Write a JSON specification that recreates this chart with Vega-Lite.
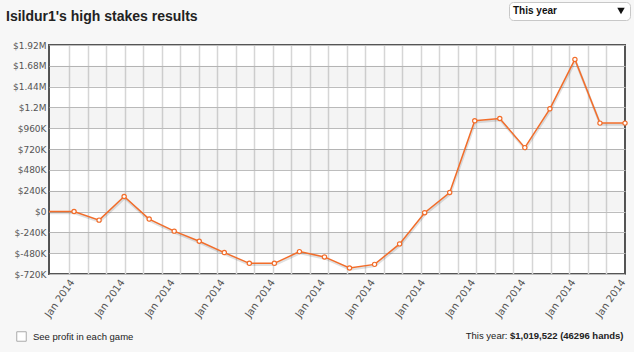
{
  "$schema": "https://vega.github.io/schema/vega-lite/v6.json",
  "width": 576,
  "height": 229,
  "autosize": {"type": "none"},
  "padding": {"left": 49, "top": 45, "right": 9, "bottom": 78},
  "background": "#f7f7f7",
  "title": {
    "text": "Isildur1's high stakes results",
    "anchor": "start",
    "frame": "group",
    "dx": -43,
    "offset": -22,
    "font": "Liberation Sans",
    "fontSize": 14,
    "fontWeight": "bold",
    "color": "#222222"
  },
  "config": {
    "view": {"stroke": "#555555", "strokeWidth": 2, "fill": "#ffffff"}
  },
  "datasets": {
    "results": [
      {"i": 0, "month": "Jan 2014", "profit": 0},
      {"i": 1, "month": "Jan 2014", "profit": 0},
      {"i": 2, "month": "Jan 2014", "profit": -99000},
      {"i": 3, "month": "Jan 2014", "profit": 173000},
      {"i": 4, "month": "Jan 2014", "profit": -87000},
      {"i": 5, "month": "Jan 2014", "profit": -226000},
      {"i": 6, "month": "Jan 2014", "profit": -342000},
      {"i": 7, "month": "Jan 2014", "profit": -473000},
      {"i": 8, "month": "Jan 2014", "profit": -597000},
      {"i": 9, "month": "Jan 2014", "profit": -597000},
      {"i": 10, "month": "Jan 2014", "profit": -462000},
      {"i": 11, "month": "Jan 2014", "profit": -523000},
      {"i": 12, "month": "Jan 2014", "profit": -651000},
      {"i": 13, "month": "Jan 2014", "profit": -609000},
      {"i": 14, "month": "Jan 2014", "profit": -373000},
      {"i": 15, "month": "Jan 2014", "profit": -13000},
      {"i": 16, "month": "Jan 2014", "profit": 219000},
      {"i": 17, "month": "Jan 2014", "profit": 1046000},
      {"i": 18, "month": "Jan 2014", "profit": 1073000},
      {"i": 19, "month": "Jan 2014", "profit": 737000},
      {"i": 20, "month": "Jan 2014", "profit": 1184000},
      {"i": 21, "month": "Jan 2014", "profit": 1754000},
      {"i": 22, "month": "Jan 2014", "profit": 1019522},
      {"i": 23, "month": "Jan 2014", "profit": 1019522}
    ],
    "bands": [
      {"lo": 1440000, "hi": 1680000},
      {"lo": 960000, "hi": 1200000},
      {"lo": 480000, "hi": 720000},
      {"lo": 0, "hi": 240000},
      {"lo": -480000, "hi": -240000}
    ]
  },
  "resolve": {"axis": {"x": "independent", "y": "independent"}},
  "layer": [
    {
      "data": {"name": "bands"},
      "mark": {"type": "rect", "color": "#000000", "opacity": 0.045},
      "encoding": {
        "y": {"field": "lo", "type": "quantitative", "axis": null,
              "scale": {"domain": [-720000, 1920000], "nice": false, "zero": false}},
        "y2": {"field": "hi"}
      }
    },
    {
      "data": {"name": "results"},
      "mark": {"type": "line", "color": "#000000", "opacity": 0.12, "strokeWidth": 2.5, "yOffset": 1.5, "xOffset": 0.5, "clip": true},
      "encoding": {
        "x": {"field": "i", "type": "quantitative", "axis": null},
        "y": {"field": "profit", "type": "quantitative", "axis": null}
      }
    },
    {
      "data": {"name": "results"},
      "mark": {"type": "line", "strokeWidth": 1.5, "clip": true},
      "encoding": {
        "stroke": {
          "datum": "This year",
          "scale": {"range": ["#f26d2a"]},
          "legend": {
            "orient": "none",
            "legendX": 460,
            "legendY": -43,
            "title": "This year",
            "titleOrient": "left",
            "titleFont": "Liberation Sans",
            "titleFontSize": 10,
            "titleFontWeight": "bold",
            "titleColor": "#111111",
            "titlePadding": 59,
            "titleBaseline": "middle",
            "labelExpr": "''",
            "labelOffset": 0,
            "symbolType": "triangle-down",
            "symbolSize": 55,
            "symbolFillColor": "#111111",
            "symbolStrokeWidth": 0,
            "padding": 4,
            "fillColor": "#ffffff",
            "strokeColor": "#c8c8c8",
            "cornerRadius": 4
          }
        },
        "x": {
          "field": "i", "type": "quantitative",
          "scale": {"domain": [0, 23], "nice": false, "zero": false, "padding": 0},
          "axis": {
            "orient": "bottom",
            "values": [1,2,3,4,5,6,7,8,9,10,11,12,13,14,15,16,17,18,19,20,21,22,23],
            "labelExpr": "'Jan 2014'",
            "labelAngle": -55,
            "labelFont": "DejaVu Sans",
            "labelFontSize": 10,
            "labelColor": "#555555",
            "labelPadding": 6,
            "labelOffset": -2,
            "ticks": false,
            "domain": false,
            "grid": false,
            "title": "$1,019,522 (46296 hands)",
            "titleFont": "Liberation Sans",
            "titleFontSize": 9.5,
            "titleFontWeight": "bold",
            "titleColor": "#222222",
            "titleAlign": "right",
            "titleBaseline": "alphabetic",
            "titleX": 574,
            "titleY": 64
          }
        },
        "y": {
          "field": "profit", "type": "quantitative",
          "axis": {
            "orient": "left",
            "values": [-720000, -480000, -240000, 0, 240000, 480000, 720000, 960000, 1200000, 1440000, 1680000, 1920000],
            "labelExpr": "datum.value == 0 ? '$0' : (abs(datum.value) >= 1000000 ? '$' + (datum.value / 1000000) + 'M' : '$' + (datum.value / 1000) + 'K')",
            "labelFont": "DejaVu Sans",
            "labelFontSize": 9,
            "labelColor": "#555555",
            "labelPadding": 3,
            "ticks": false,
            "domain": false,
            "grid": true,
            "gridColor": "#bdbdbd",
            "gridWidth": 1,
            "title": null
          }
        }
      }
    },
    {
      "data": {"name": "results"},
      "transform": [{"filter": "datum.i > 0"}],
      "mark": {"type": "point", "shape": "circle", "filled": true, "stroke": "#f26d2a", "strokeWidth": 1.2, "size": 18, "opacity": 1},
      "encoding": {
        "fill": {
          "datum": "See profit in each game",
          "scale": {"range": ["#ffffff"]},
          "legend": {
            "orient": "none",
            "legendX": -33,
            "legendY": 286,
            "title": null,
            "symbolType": "square",
            "symbolSize": 90,
            "symbolStrokeColor": "#aaaaaa",
            "symbolStrokeWidth": 1,
            "symbolFillColor": "#fbfbfb",
            "labelFont": "Liberation Sans",
            "labelFontSize": 9.5,
            "labelColor": "#222222",
            "labelOffset": 6,
            "padding": 0
          }
        },
        "x": {
          "field": "i", "type": "quantitative",
          "axis": {
            "orient": "top",
            "values": [0.7995, 1.539, 2.2785, 3.018, 3.7575, 4.497, 5.2365, 5.976, 6.7155, 7.455, 8.1945, 8.934, 9.6735, 10.413, 11.1525, 11.892, 12.6315, 13.371, 14.1105, 14.85, 15.5895, 16.329, 17.0685, 17.808, 18.5475, 19.287, 20.0265, 20.766, 21.5055, 22.245],
            "labels": false,
            "ticks": false,
            "domain": false,
            "grid": true,
            "gridColor": "#d6d6d6",
            "gridWidth": 1.5,
            "title": null
          }
        },
        "y": {
          "field": "profit", "type": "quantitative",
          "axis": {
            "orient": "right",
            "labels": false,
            "ticks": false,
            "domain": false,
            "grid": false,
            "title": "This year:",
            "titleAngle": 0,
            "titleFont": "Liberation Sans",
            "titleFontSize": 9.5,
            "titleFontWeight": "normal",
            "titleColor": "#222222",
            "titleAlign": "right",
            "titleBaseline": "alphabetic",
            "titleX": -118,
            "titleY": 293
          }
        }
      }
    }
  ]
}
